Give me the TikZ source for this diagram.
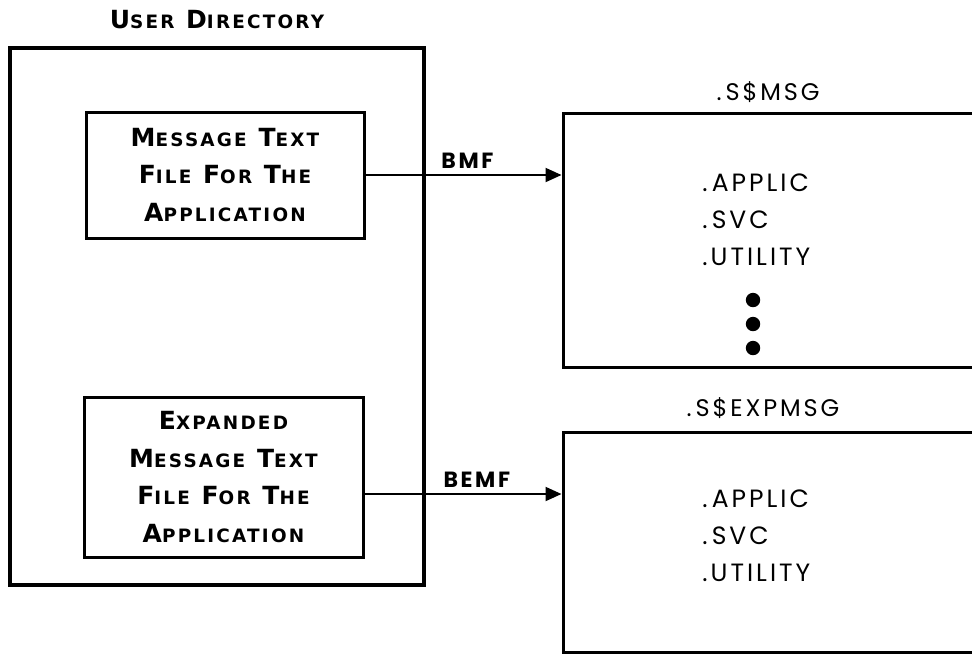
\documentclass[tikz,border=0pt]{standalone}
\usepackage{fontspec}
\setmainfont{Poppins}
\newfontfamily\platefont[LetterSpace=12]{DejaVu Sans}
\newfontfamily\listfont[LetterSpace=12]{Poppins}
\usetikzlibrary{arrows.meta, positioning}

% fake small capitals: first letter large, rest small
\newcommand{\capword}[2]{{\fontsize{12.5}{18.75}\selectfont #1}{\fontsize{9.2}{18.75}\selectfont #2}}

\tikzset{
  dirbox/.style={draw, line width=2pt, minimum width=207pt, minimum height=268.5pt},
  filebox/.style={draw, line width=1.5pt, align=center, inner sep=0pt,
    font=\platefont\bfseries\fontsize{12.5}{18.75}\selectfont},
  msgbox/.style={draw, line width=1.5pt, minimum width=218.5pt},
  flow/.style={line width=1pt, -{Triangle[length=8pt,width=7pt]}},
  flowlabel/.style={font=\listfont\bfseries\fontsize{11}{13}\selectfont, above=2pt, inner sep=1pt},
  boxtitle/.style={font=\listfont\fontsize{12}{14}\selectfont},
  itemlist/.style={font=\listfont\fontsize{12.5}{18.5}\selectfont, align=left, anchor=west, inner sep=0pt}
}

\begin{document}
\begin{tikzpicture}[x=0.5pt, y=-0.5pt]
  \useasboundingbox (0,0) rectangle (972,654);

  % left side
  \node[font=\platefont\bfseries\fontsize{12.5}{14}\selectfont] (dirtitle) at (217,20) {\capword{U}{SER} \capword{D}{IRECTORY}};
  \node[dirbox] (userdir) at (217,316.5) {};
  \node[filebox, minimum width=139pt, minimum height=63pt] (msgfile) at (225,175)
    {\capword{M}{ESSAGE} \capword{T}{EXT}\\ \capword{F}{ILE} \capword{F}{OR} \capword{T}{HE}\\ \capword{A}{PPLICATION}};
  \node[filebox, minimum width=139.5pt, minimum height=80pt] (expfile) at (223.5,477)
    {\capword{E}{XPANDED}\\ \capword{M}{ESSAGE} \capword{T}{EXT}\\ \capword{F}{ILE} \capword{F}{OR} \capword{T}{HE}\\ \capword{A}{PPLICATION}};

  % right side, boxes run off the page
  \node[msgbox, minimum height=127pt] (smsg) at (781.5,240) {};
  \node[msgbox, minimum height=110pt] (sexpmsg) at (781.5,542) {};
  \node[boxtitle] (smsgtitle) at (768,92) {.\,S\$MSG};
  \node[boxtitle] (sexpmsgtitle) at (763,408) {.\,S\$EXPMSG};

  \node[itemlist] (smsgitems) at (702,220) {.\,APPLIC\\ .\,SVC\\ .UTILITY};
  \node[itemlist] (sexpitems) at (702,536) {.\,APPLIC\\ .\,SVC\\ .UTILITY};
  \foreach \y in {300,324,348}
    \fill (753,\y) circle (3.6pt);

  % connectors
  \draw[flow] (msgfile.east) -- (msgfile.east -| smsg.west) node[flowlabel, pos=0.52] (bmf) {BMF};
  \draw[flow] ([yshift=-8.5pt]expfile.east) -- ([yshift=-8.5pt]expfile.east -| sexpmsg.west) node[flowlabel, pos=0.57] (bemf) {BEMF};
\end{tikzpicture}
\end{document}
